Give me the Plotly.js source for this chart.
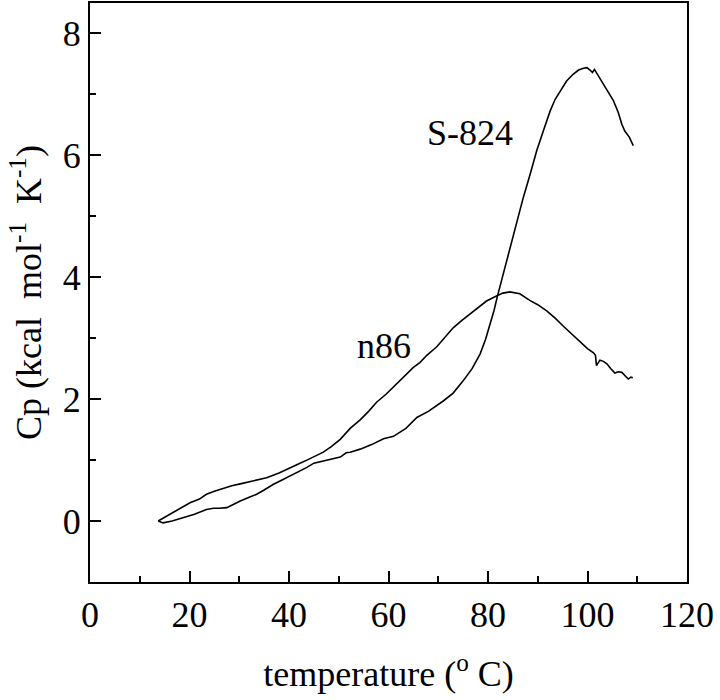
<!DOCTYPE html>
<html>
<head>
<meta charset="utf-8">
<script src="https://cdn.plot.ly/plotly-3.0.1.min.js"></script>
<style>html,body{margin:0;padding:0;background:#fff;}</style>
</head>
<body>
<div id="chart" style="width:720px;height:700px;"></div>
<script>
// n86 curve
var n86T = [13.7, 15, 16.7, 18.5, 20.1, 22, 23.4, 25, 26.8, 28.5, 30.2, 33, 35.5, 38, 40.2, 42, 43.6, 45, 46.9, 48.5, 50.3, 52.3, 54.3, 56, 57.6, 59.5, 61.6, 63.3, 65, 66.3, 67.7, 69.7, 71.5, 73, 74.7, 76.4, 78, 79.7, 81.9, 83, 84.4, 86.4, 88.4, 90, 91.8, 93.5, 95.1, 96.8, 98.5, 100, 101.2, 101.6, 101.8, 102.5, 103.2, 103.9, 104.7, 105.5, 106.2, 106.9, 107.6, 108.2, 108.7, 109.1];
var n86Cp = [0, 0.06, 0.14, 0.23, 0.30, 0.36, 0.44, 0.49, 0.54, 0.58, 0.61, 0.66, 0.71, 0.79, 0.88, 0.94, 1.0, 1.06, 1.13, 1.22, 1.34, 1.52, 1.66, 1.80, 1.95, 2.08, 2.25, 2.38, 2.52, 2.60, 2.72, 2.86, 3.03, 3.17, 3.29, 3.40, 3.51, 3.61, 3.70, 3.74, 3.76, 3.73, 3.62, 3.55, 3.45, 3.33, 3.20, 3.07, 2.93, 2.83, 2.76, 2.72, 2.55, 2.64, 2.62, 2.58, 2.50, 2.43, 2.45, 2.44, 2.38, 2.33, 2.36, 2.35];
// S-824 curve
var s824T = [13.7, 14.7, 16.5, 18.8, 21, 23.4, 24.8, 26, 27.5, 29, 30.2, 32, 33.5, 35, 36.8, 38.5, 40.2, 42, 43.6, 45, 46.9, 48.5, 50.3, 51.5, 52.3, 54.3, 56.5, 59, 61, 63.5, 65.7, 68, 71, 73, 75, 76.8, 78.4, 79.5, 80.4, 81.2, 81.9, 82.7, 83.6, 84.4, 85.8, 87.1, 88.5, 89.8, 91.2, 92.5, 93.5, 94.5, 95.8, 97.1, 98.2, 99.2, 99.9, 100.5, 101.0, 101.4, 102.2, 103.2, 104.2, 105.2, 106.2, 106.9, 107.5, 108.4, 109.2];
var s824Cp = [0, -0.03, 0.0, 0.05, 0.11, 0.19, 0.21, 0.21, 0.22, 0.28, 0.33, 0.39, 0.44, 0.51, 0.60, 0.67, 0.74, 0.81, 0.88, 0.95, 0.99, 1.02, 1.05, 1.12, 1.13, 1.18, 1.25, 1.35, 1.39, 1.52, 1.70, 1.80, 1.97, 2.10, 2.30, 2.50, 2.74, 2.98, 3.23, 3.45, 3.69, 3.94, 4.22, 4.50, 4.90, 5.31, 5.70, 6.08, 6.42, 6.73, 6.92, 7.06, 7.22, 7.33, 7.40, 7.43, 7.44, 7.40, 7.36, 7.41, 7.30, 7.17, 7.04, 6.90, 6.70, 6.51, 6.40, 6.30, 6.16];
// curve labels
var labelText = ["S-824", "n86"];
var labelT = [76.4, 59.1];
var labelCp = [6.37, 2.87];

var FONT = "Liberation Serif, Times New Roman, serif";
var traces = [
  {x: n86T, y: n86Cp, mode: "lines", name: "n86", line: {color: "#000", width: 1.6}},
  {x: s824T, y: s824Cp, mode: "lines", name: "S-824", line: {color: "#000", width: 1.6}}
];
var annotations = labelText.map(function(t, i) {
  return {x: labelT[i], y: labelCp[i], xref: "x", yref: "y", text: t, showarrow: false,
          font: {family: FONT, size: 36, color: "#000"}, xanchor: "center", yanchor: "middle"};
});
var axisCommon = {
  showgrid: false, zeroline: false, showline: true, linecolor: "#000", linewidth: 2,
  mirror: true, ticks: "inside", ticklen: 11, tickwidth: 2, tickcolor: "#000",
  tickfont: {family: FONT, size: 36, color: "#000"}
};
var layout = {
  width: 720, height: 700,
  margin: {l: 90, r: 33, t: 3, b: 118},
  paper_bgcolor: "#fff", plot_bgcolor: "#fff",
  showlegend: false,
  font: {family: FONT, color: "#000"},
  xaxis: Object.assign({}, axisCommon, {
    range: [0, 120], dtick: 20, tick0: 0,
    minor: {dtick: 10, ticks: "inside", ticklen: 6, tickwidth: 2, tickcolor: "#000", showgrid: false},
    title: {text: "temperature (<sup>o</sup> C)", font: {family: FONT, size: 36, color: "#000"}, standoff: 27}
  }),
  yaxis: Object.assign({}, axisCommon, {
    range: [-1, 8.5], dtick: 2, tick0: 0,
    minor: {dtick: 1, ticks: "inside", ticklen: 6, tickwidth: 2, tickcolor: "#000", showgrid: false},
    title: {text: "Cp (kcal  mol<sup>-1</sup>  K<sup>-1</sup>)", font: {family: FONT, size: 36, color: "#000"}, standoff: 10}
  }),
  annotations: annotations
};
Plotly.newPlot("chart", traces, layout, {displayModeBar: false, staticPlot: true});
</script>
</body>
</html>
